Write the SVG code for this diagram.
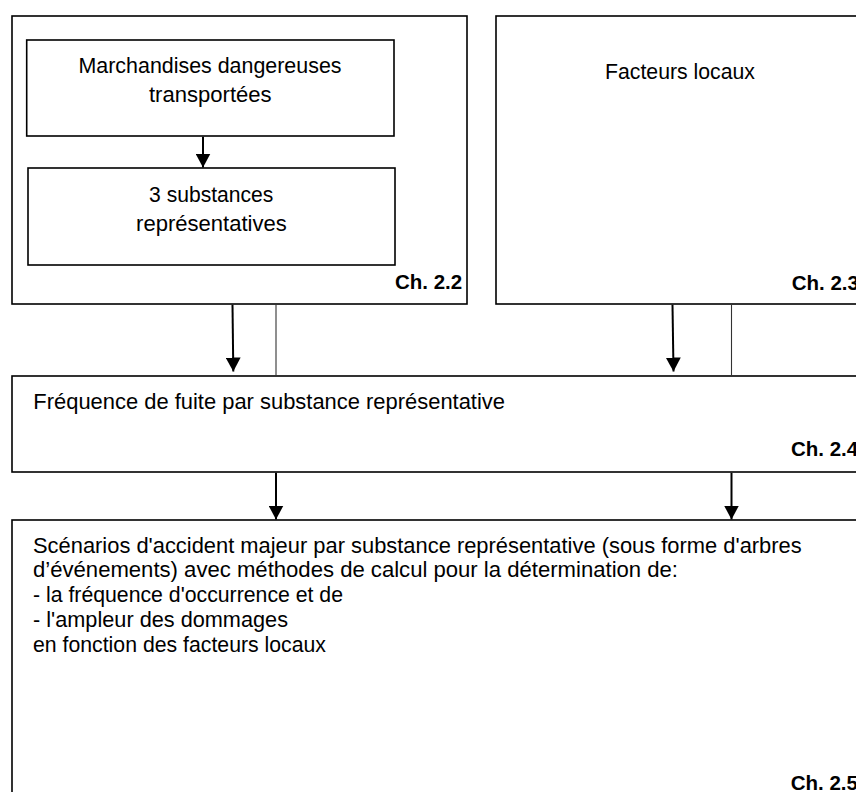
<svg xmlns="http://www.w3.org/2000/svg" width="856" height="792" viewBox="0 0 856 792">
  <style>
    .box { fill: #ffffff; stroke: #000000; stroke-width: 1.6; }
    .txt { font-family: "Liberation Sans", Arial, sans-serif; font-size: 21.5px; fill: #000000; }
    .ch { font-family: "Liberation Sans", Arial, sans-serif; font-size: 20.5px; font-weight: bold; fill: #000000; }
    .arrow { stroke: #000000; stroke-width: 2; fill: none; marker-end: url(#head); }
    .thin { stroke: #333333; stroke-width: 1.1; fill: none; }
  </style>
  <defs>
    <marker id="head" markerUnits="userSpaceOnUse" markerWidth="15" markerHeight="15" refX="14" refY="7.5" orient="auto">
      <path d="M0,0 L14,7.5 L0,15 z" fill="#000000"/>
    </marker>
  </defs>
  <rect width="856" height="792" fill="#ffffff"/>

  <g id="node-ch22">
    <rect class="box" x="12" y="16" width="455" height="288"/>
    <text class="ch" x="395" y="289.3">Ch. 2.2</text>
  </g>
  <g id="node-marchandises">
    <rect class="box" x="26.7" y="40" width="367.3" height="96"/>
    <text class="txt" x="210" y="72.7" text-anchor="middle" textLength="263" lengthAdjust="spacingAndGlyphs">Marchandises dangereuses</text>
    <text class="txt" x="210.3" y="101.7" text-anchor="middle" textLength="122.7" lengthAdjust="spacingAndGlyphs">transportées</text>
  </g>
  <g id="node-substances">
    <rect class="box" x="28" y="168" width="367" height="97"/>
    <text class="txt" x="211.2" y="202.3" text-anchor="middle" textLength="124.3" lengthAdjust="spacingAndGlyphs">3 substances</text>
    <text class="txt" x="211.4" y="230.7" text-anchor="middle" textLength="150.7" lengthAdjust="spacingAndGlyphs">représentatives</text>
  </g>
  <g id="node-facteurs">
    <rect class="box" x="496" y="16" width="380" height="288"/>
    <text class="txt" x="605" y="79" textLength="150" lengthAdjust="spacingAndGlyphs">Facteurs locaux</text>
    <text class="ch" x="791.7" y="290">Ch. 2.3</text>
  </g>
  <g id="node-frequence">
    <rect class="box" x="12" y="376" width="864" height="96"/>
    <text class="txt" x="33.3" y="409" textLength="471.7" lengthAdjust="spacingAndGlyphs">Fréquence de fuite par substance représentative</text>
    <text class="ch" x="791" y="455.7">Ch. 2.4</text>
  </g>
  <g id="node-scenarios">
    <rect class="box" x="12" y="520" width="864" height="290"/>
    <text class="txt" x="33" y="552.5" textLength="768.7" lengthAdjust="spacingAndGlyphs">Scénarios d'accident majeur par substance représentative (sous forme d'arbres</text>
    <text class="txt" x="33" y="577.3" textLength="645" lengthAdjust="spacingAndGlyphs">d’événements) avec méthodes de calcul pour la détermination de:</text>
    <text class="txt" x="33" y="602" textLength="310" lengthAdjust="spacingAndGlyphs">- la fréquence d'occurrence et de</text>
    <text class="txt" x="33" y="626.8" textLength="255" lengthAdjust="spacingAndGlyphs">- l'ampleur des dommages</text>
    <text class="txt" x="33" y="651.6" textLength="293" lengthAdjust="spacingAndGlyphs">en fonction des facteurs locaux</text>
    <text class="ch" x="790.7" y="789.5">Ch. 2.5</text>
  </g>

  <g id="connectors">
    <line class="arrow" x1="203" y1="136.8" x2="203" y2="167.5"/>
    <line class="arrow" x1="232.5" y1="304.8" x2="233.3" y2="371.5"/>
    <line class="thin" x1="276" y1="304.8" x2="276" y2="375.2"/>
    <line class="arrow" x1="672.5" y1="304.8" x2="673.5" y2="371.5"/>
    <line class="thin" x1="731.5" y1="304.8" x2="731.5" y2="375.2"/>
    <line class="arrow" x1="276" y1="472.8" x2="276" y2="519.5"/>
    <line class="arrow" x1="731.5" y1="472.8" x2="731.5" y2="519.5"/>
  </g>
</svg>
